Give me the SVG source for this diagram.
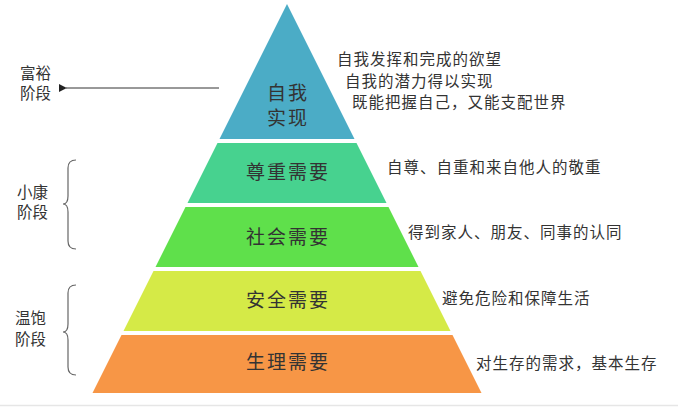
<svg xmlns="http://www.w3.org/2000/svg" width="678" height="407" viewBox="0 0 678 407">
<style>
text{font-family:"Noto Sans CJK SC","Noto Sans",sans-serif;fill:#333}
.lvl{font-size:19px;letter-spacing:2px;text-anchor:middle}
.desc{font-size:15.5px;letter-spacing:1px}
.side{font-size:15.5px}
.conn{fill:none;stroke:#333;stroke-width:1}
.brace{fill:none;stroke:#666;stroke-width:1.2}
</style>
<defs>
<marker id="ah" viewBox="0 0 10 10" refX="1" refY="5" markerWidth="8" markerHeight="8" orient="auto" markerUnits="userSpaceOnUse">
<path d="M10,0 L0,5 L10,10 Z" fill="#222"/>
</marker>
</defs>
<rect width="678" height="407" fill="#fff"/>
<line x1="0" y1="405.5" x2="678" y2="405.5" stroke="#e6e6e6" stroke-width="1.5"/>
<g id="level-self">
<polygon points="287,4 354.5,139 219.5,139" fill="#4bacc6"/>
<text class="lvl" x="288" y="100">自我</text>
<text class="lvl" x="288" y="125">实现</text>
</g>
<g id="level-esteem">
<polygon points="217.5,143 356.5,143 386.5,203 187.5,203" fill="#47d28f"/>
<text class="lvl" x="288" y="179">尊重需要</text>
</g>
<g id="level-social">
<polygon points="185.5,207 388.5,207 418.5,267 155.5,267" fill="#5fe04b"/>
<text class="lvl" x="288" y="244">社会需要</text>
</g>
<g id="level-safety">
<polygon points="153.5,271 420.5,271 450.5,331 123.5,331" fill="#d5ea47"/>
<text class="lvl" x="288" y="307">安全需要</text>
</g>
<g id="level-physio">
<polygon points="121.5,335 452.5,335 481.5,393 92.5,393" fill="#f79646"/>
<text class="lvl" x="288" y="369">生理需要</text>
</g>
<g id="desc-self">
<text class="desc" x="337" y="65">自我发挥和完成的欲望</text>
<text class="desc" x="345" y="87">自我的潜力得以实现</text>
<text class="desc" x="352" y="108">既能把握自己，又能支配世界</text>
</g>
<g id="desc-esteem"><text class="desc" x="387" y="173">自尊、自重和来自他人的敬重</text></g>
<g id="desc-social"><text class="desc" x="408" y="238">得到家人、朋友、同事的认同</text></g>
<g id="desc-safety"><text class="desc" x="442" y="304">避免危险和保障生活</text></g>
<g id="desc-physio"><text class="desc" x="476" y="369">对生存的需求，基本生存</text></g>
<g id="stage-rich">
<text class="side" x="20" y="79">富裕</text>
<text class="side" x="20" y="99">阶段</text>
</g>
<g id="stage-xiaokang">
<text class="side" x="17" y="198">小康</text>
<text class="side" x="17" y="218">阶段</text>
</g>
<g id="stage-wenbao">
<text class="side" x="15" y="324">温饱</text>
<text class="side" x="15" y="345">阶段</text>
</g>
<g id="connectors">
<line class="conn" x1="219" y1="88" x2="66" y2="88" marker-end="url(#ah)"/>
<path class="brace" d="M76,160 Q68,160 68,168 L68,196 Q68,204 63,204 Q68,204 68,212 L68,241 Q68,249 76,249"/>
<path class="brace" d="M76,285 Q68,285 68,293 L68,324 Q68,332 63,332 Q68,332 68,340 L68,367 Q68,375 76,375"/>
</g>
</svg>
